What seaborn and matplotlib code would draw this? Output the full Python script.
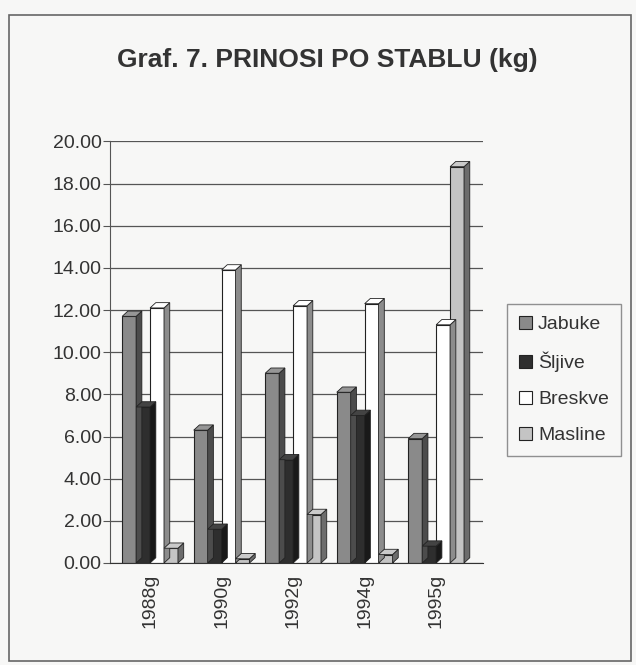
import pandas as pd
import numpy as np
import matplotlib
matplotlib.use('Agg')
import matplotlib.pyplot as plt
from matplotlib.patches import Polygon, Rectangle
import seaborn as sns

# values (kg per tree)
years = ['1988g', '1990g', '1992g', '1994g', '1995g']
jabuke = [11.7, 6.3, 9.0, 8.1, 5.9]
sljive = [7.4, 1.6, 4.9, 7.0, 0.8]
breskve = [12.1, 13.9, 12.2, 12.3, 11.3]
masline = [0.7, 0.2, 2.3, 0.4, 18.8]
fruits = ['Jabuke', 'Šljive', 'Breskve', 'Masline']
colors = ['#8a8a8a', '#2e2e2e', '#ffffff', '#c4c4c4']

df = pd.DataFrame({
    'Godina': np.repeat(years, 4),
    'Voće': fruits * len(years),
    'kg': np.column_stack([jabuke, sljive, breskve, masline]).ravel(),
})

sns.set_style('white')
plt.rcParams['font.family'] = ['Liberation Sans', 'DejaVu Sans']

bg = '#f7f7f6'
txt = '#333333'
fig = plt.figure(figsize=(6.36, 6.65), dpi=100, facecolor=bg)
ax = fig.add_axes([0.173, 0.1534, 0.587, 0.634])
ax.set_facecolor(bg)

sns.barplot(data=df, x='Godina', y='kg', hue='Voće', hue_order=fruits,
            palette=colors, width=0.78, edgecolor='#222222', linewidth=0.8,
            ax=ax, legend=False)

# fake 3D depth on each bar (side + top face)
dx, dy = 0.08, 0.25
for p in list(ax.patches):
    x, w, h = p.get_x(), p.get_width(), p.get_height()
    fc = p.get_facecolor()
    side = tuple(c * 0.55 for c in fc[:3])
    top = tuple(min(1, c * 0.9 + 0.1) for c in fc[:3])
    z = p.get_zorder()
    ax.add_patch(Polygon([(x + w, 0), (x + w + dx, dy), (x + w + dx, h + dy), (x + w, h)],
                         closed=True, facecolor=side, edgecolor='#222222', lw=0.6, zorder=z))
    ax.add_patch(Polygon([(x, h), (x + dx, h + dy), (x + w + dx, h + dy), (x + w, h)],
                         closed=True, facecolor=top, edgecolor='#222222', lw=0.6, zorder=z))

ax.set_ylim(0, 20)
ax.set_xlim(-0.56, 4.66)
ticks = np.arange(0, 21, 2)
ax.set_yticks(ticks)
ax.set_yticklabels([f'{v:.2f}' for v in ticks], fontsize=14, color=txt)
ax.yaxis.grid(True, color='#555555', lw=0.9)
ax.set_axisbelow(True)
ax.tick_params(axis='y', length=5, left=True, color='#555555', pad=1)
ax.tick_params(axis='x', length=0, pad=8)
plt.setp(ax.get_xticklabels(), rotation=90, fontsize=14, color=txt)
ax.set_xlabel('')
ax.set_ylabel('')
for s in ['top', 'right']:
    ax.spines[s].set_visible(False)
ax.spines['left'].set_color('#555555')
ax.spines['bottom'].set_color('#333333')

fig.text(0.514, 0.91, 'Graf. 7. PRINOSI PO STABLU (kg)', ha='center', va='center',
         fontsize=19, fontweight='bold', color=txt)

handles = [Rectangle((0, 0), 1, 1, facecolor=c, edgecolor='#222222', lw=0.8) for c in colors]
leg = fig.legend(handles, fruits, loc='center left', bbox_to_anchor=(0.797, 0.4286),
                 fontsize=14, frameon=True, fancybox=False, edgecolor='#777777',
                 handlelength=0.7, handleheight=0.7, handletextpad=0.3, labelspacing=0.95,
                 borderpad=0.6, borderaxespad=0)
leg.get_frame().set_facecolor(bg)
for t in leg.get_texts():
    t.set_color(txt)

# outer chart border
fig.add_artist(Rectangle((9 / 636, 4 / 665), 622 / 636, 646 / 665, transform=fig.transFigure,
                         fill=False, edgecolor='#666666', lw=1.2))

fig.savefig('out.png', dpi=100, facecolor=bg)
